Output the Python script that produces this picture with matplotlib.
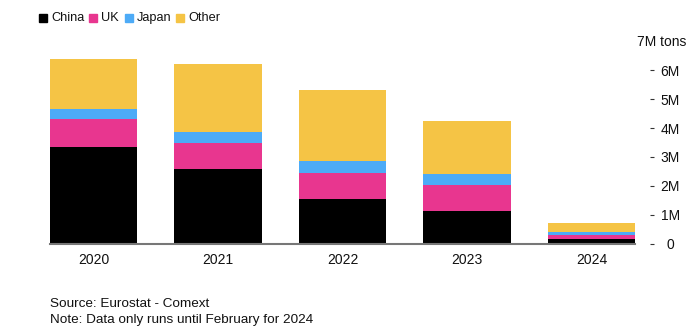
import matplotlib
matplotlib.use("Agg")
import matplotlib.pyplot as plt
from matplotlib.patches import Rectangle
import numpy as np

plt.rcParams['font.family'] = ['Liberation Sans', 'DejaVu Sans']

years = ["2020", "2021", "2022", "2023", "2024"]
series_names = ["China", "UK", "Japan", "Other"]
china = [3.34, 2.57, 1.55, 1.14, 0.16]
uk = [0.97, 0.92, 0.91, 0.90, 0.15]
japan = [0.36, 0.39, 0.39, 0.37, 0.08]
other = [1.72, 2.34, 2.47, 1.83, 0.32]
colors = ["#000000", "#e8368f", "#4dabf7", "#f5c445"]
ytick_vals = [0, 1, 2, 3, 4, 5, 6]
ytick_labels = ["0", "1M", "2M", "3M", "4M", "5M", "6M"]

fig = plt.figure(figsize=(7, 3.36), dpi=100)
ax = fig.add_axes([50 / 700, 1 - 243.5 / 336, 585 / 700, 202 / 336])

x = np.arange(len(years))
bottom = np.zeros(len(years))
for vals, c in zip([china, uk, japan, other], colors):
    ax.bar(x, vals, width=0.7, bottom=bottom, color=c, edgecolor="none")
    bottom += np.array(vals)

ax.set_xlim(-0.35, len(years) - 0.65)
ax.set_ylim(0, 7)

for s in ["top", "left"]:
    ax.spines[s].set_visible(False)
ax.spines["bottom"].set_color("#777777")
ax.spines["bottom"].set_linewidth(1.5)
ax.spines["right"].set_position(("outward", 10.8))
ax.spines["right"].set_visible(False)

ax.yaxis.tick_right()
ax.set_yticks(ytick_vals)
ax.set_yticklabels(ytick_labels, ha="center")
ax.tick_params(axis="y", length=3, width=0.8, color="#333333", pad=11.5,
               labelsize=10, labelcolor="#111111")
ax.set_xticks(x)
ax.set_xticklabels(years)
ax.tick_params(axis="x", length=0, pad=7, labelsize=10, labelcolor="#111111")

ax.text(1.0885, 7, "7M tons", transform=ax.get_yaxis_transform(),
        ha="right", va="center", fontsize=10, color="#111111")

# legend
leg_x = [39, 89, 125, 176]
for name, c, lx in zip(series_names, colors, leg_x):
    fig.patches.append(Rectangle((lx / 700, 1 - 22 / 336), 8 / 700, 8 / 336,
                                 transform=fig.transFigure, color=c))
    fig.text((lx + 12) / 700, 1 - 18 / 336, name, ha="left", va="center",
             fontsize=9.2, color="#111111")

fig.text(50 / 700, 1 - 304 / 336, "Source: Eurostat - Comext",
         ha="left", va="center", fontsize=9.7, color="#111111")
fig.text(50 / 700, 1 - 320 / 336, "Note: Data only runs until February for 2024",
         ha="left", va="center", fontsize=9.7, color="#111111")

fig.savefig("out.png", dpi=100)
